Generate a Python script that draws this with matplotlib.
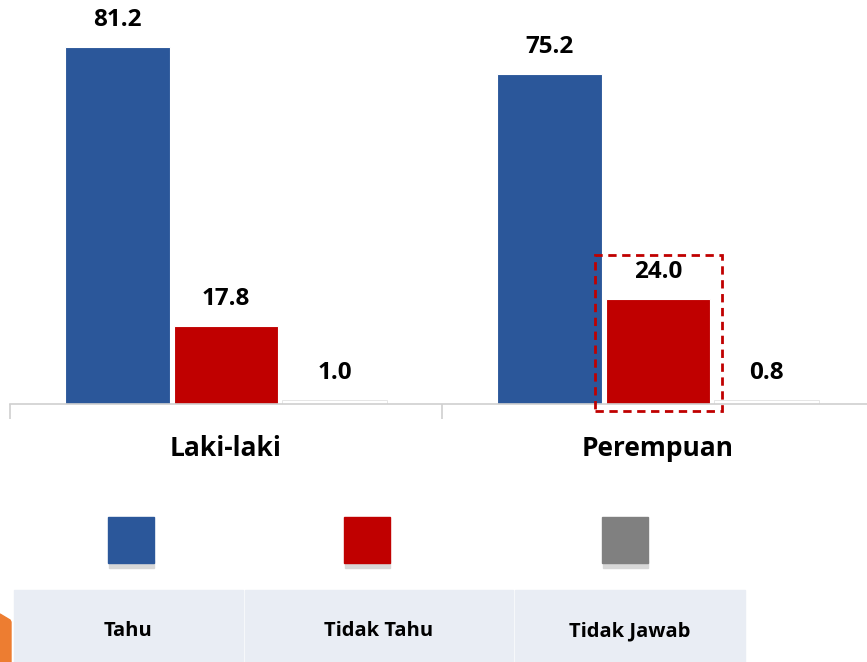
import matplotlib.pyplot as plt
import matplotlib.patches as mpatches
import numpy as np

# data
groups = ["Laki-laki", "Perempuan"]
series = ["Tahu", "Tidak Tahu", "Tidak Jawab"]
tahu = [81.2, 75.2]
tidak_tahu = [17.8, 24.0]
tidak_jawab = [1.0, 0.8]
colors = ["#2B579A", "#C00000", "#808080"]

W, H = 867, 662
plt.rcParams["font.family"] = ["Open Sans", "DejaVu Sans"]
fig = plt.figure(figsize=(W / 100, H / 100), dpi=100)


def px(x, y):
    # figure pixel (from top-left) -> figure fraction
    return x / W, 1 - y / H


# axes spans 10px .. 874px horizontally, baseline at y=404
ax = fig.add_axes([10 / W, (H - 404) / H, 864 / W, 404 / H])
ax.set_xlim(-0.5, 1.5)
ax.set_ylim(0, 92)

x = np.arange(len(groups))
width = 0.243
step = 0.252
values = [tahu, tidak_tahu, tidak_jawab]
for i, (vals, col) in enumerate(zip(values, colors)):
    pos = x + (i - 1) * step
    if i < 2:
        ax.bar(pos, vals, width, color=col, edgecolor="white", linewidth=0.8, zorder=2)
    else:
        # "Tidak Jawab" bars render almost white in the reference
        ax.bar(pos, vals, width, color="white", edgecolor="#e6e6e6", linewidth=0.7, zorder=2)
    for p, v in zip(pos, vals):
        ax.annotate(f"{v:.1f}", (p, v), xytext=(0, 19.5), textcoords="offset points",
                    ha="center", va="center", fontsize=17.5, fontweight="bold",
                    color="black")

for s in ["top", "right", "left"]:
    ax.spines[s].set_visible(False)
ax.spines["bottom"].set_color("#d0d0d0")
ax.spines["bottom"].set_linewidth(1.2)
ax.set_yticks([])
ax.set_xticks([-0.5, 0.5, 1.5])
ax.set_xticklabels([])
ax.tick_params(axis="x", length=11, width=1.2, color="#d0d0d0")
for xi, g in zip(x, groups):
    ax.text(xi, -10.2, g, ha="center", va="center", fontsize=19,
            fontweight="bold", color="black", transform=ax.transData, clip_on=False)

# dashed highlight box around 24.0
l, t = px(595, 255)
r, b = px(722, 411)
fig.patches.append(mpatches.Rectangle((l, b), r - l, t - b, transform=fig.transFigure,
                                      fill=False, edgecolor="#C00000", linewidth=2,
                                      linestyle=(0, (3, 2))))

# legend: coloured squares and label boxes
sq_cx = [131, 367, 625]
box_edges = [(14, 243), (245, 513), (515, 745)]
for name, col, cx, (bl, br) in zip(series, colors, sq_cx, box_edges):
    # shadow
    sl, st = px(cx - 22, 560)
    sr, sb = px(cx + 23, 568)
    fig.patches.append(mpatches.Rectangle((sl, sb), sr - sl, st - sb,
                                          transform=fig.transFigure, color="#d8d8d8", zorder=1))
    ql, qt = px(cx - 23, 517)
    qr, qb = px(cx + 23, 563)
    fig.patches.append(mpatches.Rectangle((ql, qb), qr - ql, qt - qb,
                                          transform=fig.transFigure, color=col, zorder=2))
    fl, ft = px(bl, 590)
    fr, fb = px(br, 662)
    fig.patches.append(mpatches.Rectangle((fl, fb), fr - fl, ft - fb,
                                          transform=fig.transFigure, color="#E9EDF4", zorder=1))
    tx, ty = px((bl + br) / 2, 631)
    fig.text(tx, ty, name, ha="center", va="center", fontsize=14.5,
             fontweight="bold", color="black")

# orange corner shape
corner = [px(0, 614), px(10, 620), px(11, 622), px(11, 662), px(0, 662)]
fig.patches.append(mpatches.Polygon(corner, closed=True, transform=fig.transFigure,
                                    color="#ED7D31"))

fig.savefig("out.png", dpi=100)
